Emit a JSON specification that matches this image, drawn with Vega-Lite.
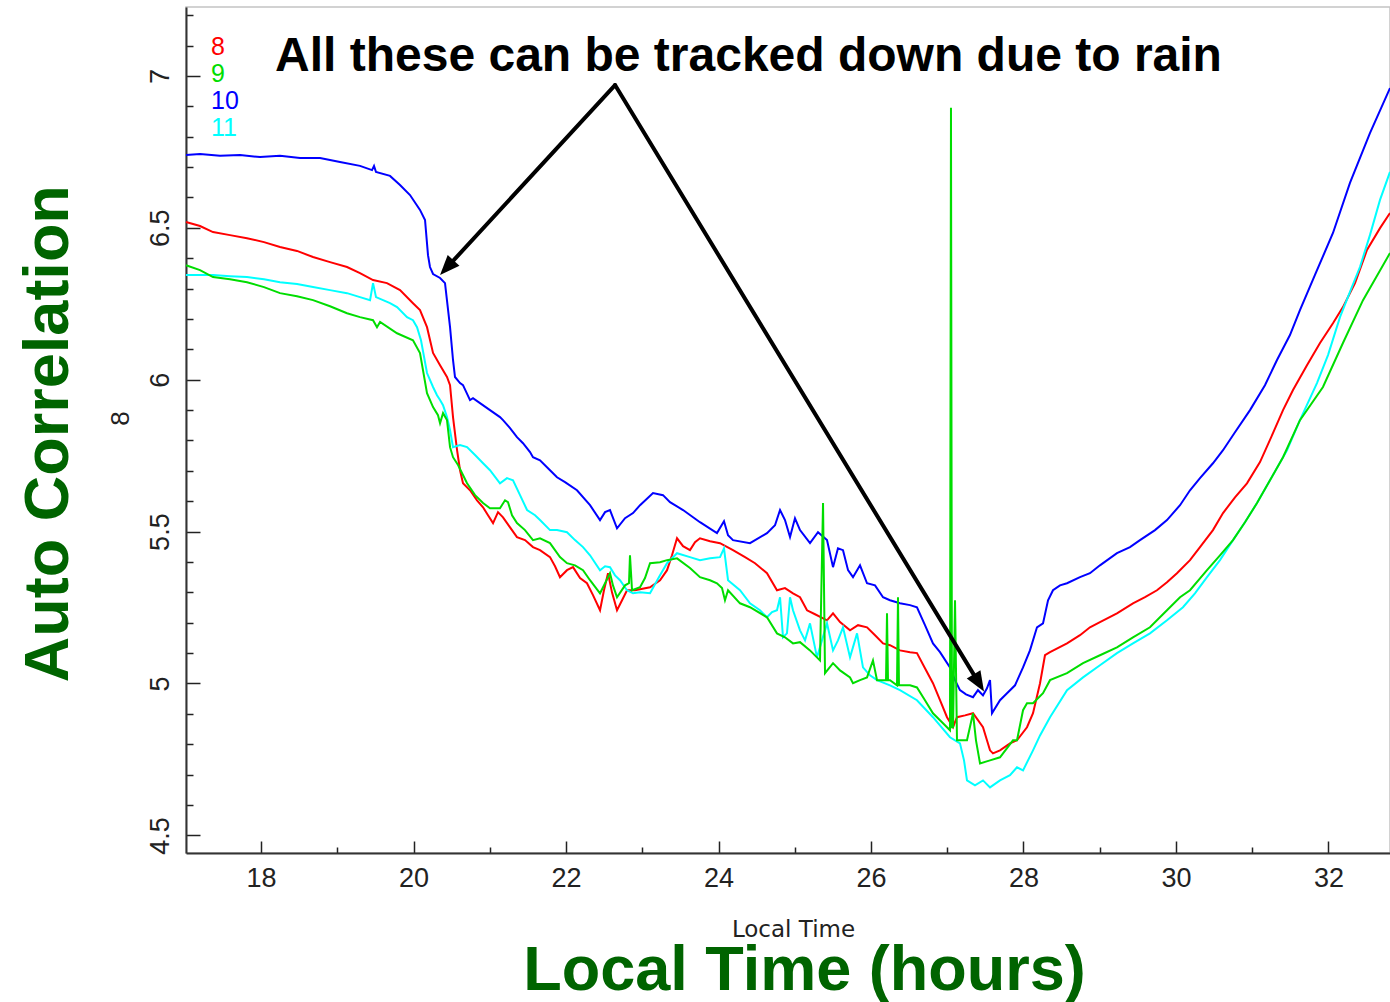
{
  "$schema": "https://vega.github.io/schema/vega-lite/v6.json",
  "width": 1204,
  "height": 846,
  "autosize": {"type": "none"},
  "padding": {"left": 186, "top": 7, "right": 0, "bottom": 149},
  "background": "white",
  "config": {"view": {"stroke": "#c4c4c4", "strokeWidth": 1.5}},
  "datasets": {
    "series": [
      {"s":"10","t":17.016,"v":6.740},{"s":"10","t":17.200,"v":6.743},{"s":"10","t":17.462,"v":6.737},{"s":"10","t":17.725,"v":6.740},
      {"s":"10","t":17.987,"v":6.733},{"s":"10","t":18.249,"v":6.737},{"s":"10","t":18.511,"v":6.730},{"s":"10","t":18.774,"v":6.730},
      {"s":"10","t":19.036,"v":6.717},{"s":"10","t":19.298,"v":6.704},{"s":"10","t":19.456,"v":6.690},{"s":"10","t":19.482,"v":6.704},
      {"s":"10","t":19.508,"v":6.684},{"s":"10","t":19.692,"v":6.671},{"s":"10","t":19.823,"v":6.641},{"s":"10","t":19.954,"v":6.608},
      {"s":"10","t":20.085,"v":6.559},{"s":"10","t":20.151,"v":6.526},{"s":"10","t":20.190,"v":6.410},{"s":"10","t":20.216,"v":6.371},
      {"s":"10","t":20.256,"v":6.348},{"s":"10","t":20.348,"v":6.335},{"s":"10","t":20.413,"v":6.318},{"s":"10","t":20.479,"v":6.173},
      {"s":"10","t":20.518,"v":6.065},{"s":"10","t":20.544,"v":6.009},{"s":"10","t":20.610,"v":5.989},{"s":"10","t":20.649,"v":5.982},
      {"s":"10","t":20.741,"v":5.933},{"s":"10","t":20.780,"v":5.939},{"s":"10","t":20.872,"v":5.923},{"s":"10","t":21.003,"v":5.900},
      {"s":"10","t":21.134,"v":5.877},{"s":"10","t":21.174,"v":5.867},{"s":"10","t":21.266,"v":5.841},{"s":"10","t":21.357,"v":5.811},
      {"s":"10","t":21.436,"v":5.791},{"s":"10","t":21.528,"v":5.762},{"s":"10","t":21.567,"v":5.745},{"s":"10","t":21.659,"v":5.735},
      {"s":"10","t":21.790,"v":5.702},{"s":"10","t":21.882,"v":5.679},{"s":"10","t":21.987,"v":5.663},{"s":"10","t":22.144,"v":5.636},
      {"s":"10","t":22.315,"v":5.587},{"s":"10","t":22.446,"v":5.538},{"s":"10","t":22.512,"v":5.564},{"s":"10","t":22.577,"v":5.571},
      {"s":"10","t":22.669,"v":5.511},{"s":"10","t":22.774,"v":5.544},{"s":"10","t":22.879,"v":5.561},{"s":"10","t":22.971,"v":5.587},
      {"s":"10","t":23.141,"v":5.627},{"s":"10","t":23.272,"v":5.620},{"s":"10","t":23.364,"v":5.597},{"s":"10","t":23.535,"v":5.571},
      {"s":"10","t":23.757,"v":5.531},{"s":"10","t":23.980,"v":5.495},{"s":"10","t":24.072,"v":5.534},{"s":"10","t":24.125,"v":5.488},
      {"s":"10","t":24.190,"v":5.472},{"s":"10","t":24.413,"v":5.462},{"s":"10","t":24.636,"v":5.495},{"s":"10","t":24.741,"v":5.521},
      {"s":"10","t":24.807,"v":5.571},{"s":"10","t":24.872,"v":5.538},{"s":"10","t":24.938,"v":5.482},{"s":"10","t":25.003,"v":5.544},
      {"s":"10","t":25.069,"v":5.505},{"s":"10","t":25.200,"v":5.462},{"s":"10","t":25.305,"v":5.498},{"s":"10","t":25.423,"v":5.472},
      {"s":"10","t":25.502,"v":5.383},{"s":"10","t":25.567,"v":5.445},{"s":"10","t":25.633,"v":5.439},{"s":"10","t":25.699,"v":5.373},
      {"s":"10","t":25.764,"v":5.350},{"s":"10","t":25.856,"v":5.389},{"s":"10","t":25.948,"v":5.330},{"s":"10","t":26.053,"v":5.323},
      {"s":"10","t":26.158,"v":5.284},{"s":"10","t":26.249,"v":5.274},{"s":"10","t":26.380,"v":5.264},{"s":"10","t":26.512,"v":5.258},
      {"s":"10","t":26.603,"v":5.251},{"s":"10","t":26.708,"v":5.192},{"s":"10","t":26.813,"v":5.132},{"s":"10","t":26.905,"v":5.103},
      {"s":"10","t":27.036,"v":5.053},{"s":"10","t":27.102,"v":5.011},{"s":"10","t":27.167,"v":4.978},{"s":"10","t":27.246,"v":4.964},
      {"s":"10","t":27.338,"v":4.955},{"s":"10","t":27.403,"v":4.978},{"s":"10","t":27.469,"v":4.961},{"s":"10","t":27.521,"v":4.984},
      {"s":"10","t":27.561,"v":5.011},{"s":"10","t":27.587,"v":4.902},{"s":"10","t":27.692,"v":4.945},{"s":"10","t":27.784,"v":4.968},
      {"s":"10","t":27.889,"v":4.994},{"s":"10","t":27.994,"v":5.053},{"s":"10","t":28.085,"v":5.109},{"s":"10","t":28.177,"v":5.185},
      {"s":"10","t":28.256,"v":5.198},{"s":"10","t":28.322,"v":5.274},{"s":"10","t":28.387,"v":5.307},{"s":"10","t":28.479,"v":5.323},
      {"s":"10","t":28.571,"v":5.330},{"s":"10","t":28.741,"v":5.350},{"s":"10","t":28.872,"v":5.363},{"s":"10","t":29.003,"v":5.389},
      {"s":"10","t":29.226,"v":5.429},{"s":"10","t":29.397,"v":5.449},{"s":"10","t":29.528,"v":5.472},{"s":"10","t":29.725,"v":5.505},
      {"s":"10","t":29.882,"v":5.538},{"s":"10","t":30.053,"v":5.587},{"s":"10","t":30.184,"v":5.636},{"s":"10","t":30.315,"v":5.676},
      {"s":"10","t":30.485,"v":5.725},{"s":"10","t":30.617,"v":5.768},{"s":"10","t":30.774,"v":5.827},{"s":"10","t":30.971,"v":5.900},
      {"s":"10","t":31.167,"v":5.982},{"s":"10","t":31.325,"v":6.065},{"s":"10","t":31.495,"v":6.147},{"s":"10","t":31.626,"v":6.229},
      {"s":"10","t":31.823,"v":6.345},{"s":"10","t":32.059,"v":6.483},{"s":"10","t":32.282,"v":6.648},{"s":"10","t":32.544,"v":6.812},
      {"s":"10","t":32.807,"v":6.960},

      {"s":"8","t":17.016,"v":6.519},{"s":"8","t":17.200,"v":6.506},{"s":"8","t":17.370,"v":6.486},{"s":"8","t":17.593,"v":6.476},
      {"s":"8","t":17.816,"v":6.466},{"s":"8","t":18.039,"v":6.453},{"s":"8","t":18.249,"v":6.437},{"s":"8","t":18.472,"v":6.424},
      {"s":"8","t":18.682,"v":6.404},{"s":"8","t":18.905,"v":6.387},{"s":"8","t":19.128,"v":6.371},{"s":"8","t":19.298,"v":6.351},
      {"s":"8","t":19.469,"v":6.328},{"s":"8","t":19.652,"v":6.318},{"s":"8","t":19.823,"v":6.295},{"s":"8","t":19.993,"v":6.252},
      {"s":"8","t":20.085,"v":6.229},{"s":"8","t":20.177,"v":6.173},{"s":"8","t":20.256,"v":6.088},{"s":"8","t":20.348,"v":6.048},
      {"s":"8","t":20.439,"v":6.009},{"s":"8","t":20.479,"v":5.982},{"s":"8","t":20.518,"v":5.877},{"s":"8","t":20.571,"v":5.768},
      {"s":"8","t":20.610,"v":5.702},{"s":"8","t":20.649,"v":5.659},{"s":"8","t":20.741,"v":5.636},{"s":"8","t":20.833,"v":5.603},
      {"s":"8","t":20.912,"v":5.580},{"s":"8","t":20.977,"v":5.554},{"s":"8","t":21.043,"v":5.528},{"s":"8","t":21.108,"v":5.564},
      {"s":"8","t":21.174,"v":5.547},{"s":"8","t":21.266,"v":5.514},{"s":"8","t":21.357,"v":5.482},{"s":"8","t":21.462,"v":5.472},
      {"s":"8","t":21.567,"v":5.449},{"s":"8","t":21.659,"v":5.439},{"s":"8","t":21.790,"v":5.416},{"s":"8","t":21.856,"v":5.386},
      {"s":"8","t":21.921,"v":5.350},{"s":"8","t":22.013,"v":5.373},{"s":"8","t":22.092,"v":5.383},{"s":"8","t":22.184,"v":5.347},
      {"s":"8","t":22.275,"v":5.330},{"s":"8","t":22.354,"v":5.291},{"s":"8","t":22.446,"v":5.241},{"s":"8","t":22.498,"v":5.307},
      {"s":"8","t":22.551,"v":5.363},{"s":"8","t":22.603,"v":5.300},{"s":"8","t":22.669,"v":5.241},{"s":"8","t":22.735,"v":5.274},
      {"s":"8","t":22.800,"v":5.307},{"s":"8","t":22.905,"v":5.307},{"s":"8","t":23.102,"v":5.317},{"s":"8","t":23.233,"v":5.340},
      {"s":"8","t":23.325,"v":5.373},{"s":"8","t":23.390,"v":5.422},{"s":"8","t":23.456,"v":5.478},{"s":"8","t":23.535,"v":5.452},
      {"s":"8","t":23.626,"v":5.439},{"s":"8","t":23.692,"v":5.465},{"s":"8","t":23.757,"v":5.478},{"s":"8","t":23.889,"v":5.468},
      {"s":"8","t":24.020,"v":5.462},{"s":"8","t":24.190,"v":5.439},{"s":"8","t":24.348,"v":5.416},{"s":"8","t":24.479,"v":5.396},
      {"s":"8","t":24.636,"v":5.363},{"s":"8","t":24.767,"v":5.307},{"s":"8","t":24.872,"v":5.314},{"s":"8","t":24.977,"v":5.297},
      {"s":"8","t":25.069,"v":5.284},{"s":"8","t":25.161,"v":5.241},{"s":"8","t":25.266,"v":5.228},{"s":"8","t":25.423,"v":5.208},
      {"s":"8","t":25.502,"v":5.231},{"s":"8","t":25.594,"v":5.202},{"s":"8","t":25.725,"v":5.175},{"s":"8","t":25.830,"v":5.192},
      {"s":"8","t":25.948,"v":5.185},{"s":"8","t":26.053,"v":5.159},{"s":"8","t":26.158,"v":5.132},{"s":"8","t":26.249,"v":5.126},
      {"s":"8","t":26.380,"v":5.109},{"s":"8","t":26.512,"v":5.103},{"s":"8","t":26.603,"v":5.100},{"s":"8","t":26.708,"v":5.050},
      {"s":"8","t":26.813,"v":5.001},{"s":"8","t":26.905,"v":4.945},{"s":"8","t":26.997,"v":4.889},{"s":"8","t":27.076,"v":4.856},
      {"s":"8","t":27.128,"v":4.889},{"s":"8","t":27.233,"v":4.895},{"s":"8","t":27.338,"v":4.902},{"s":"8","t":27.469,"v":4.856},
      {"s":"8","t":27.521,"v":4.813},{"s":"8","t":27.561,"v":4.780},{"s":"8","t":27.600,"v":4.770},{"s":"8","t":27.692,"v":4.780},
      {"s":"8","t":27.823,"v":4.803},{"s":"8","t":27.915,"v":4.813},{"s":"8","t":28.046,"v":4.856},{"s":"8","t":28.125,"v":4.902},
      {"s":"8","t":28.217,"v":5.001},{"s":"8","t":28.282,"v":5.093},{"s":"8","t":28.348,"v":5.103},{"s":"8","t":28.571,"v":5.132},
      {"s":"8","t":28.741,"v":5.159},{"s":"8","t":28.872,"v":5.185},{"s":"8","t":29.003,"v":5.202},{"s":"8","t":29.226,"v":5.231},
      {"s":"8","t":29.436,"v":5.264},{"s":"8","t":29.594,"v":5.284},{"s":"8","t":29.751,"v":5.307},{"s":"8","t":29.882,"v":5.333},
      {"s":"8","t":30.013,"v":5.363},{"s":"8","t":30.184,"v":5.406},{"s":"8","t":30.315,"v":5.449},{"s":"8","t":30.485,"v":5.505},
      {"s":"8","t":30.617,"v":5.561},{"s":"8","t":30.774,"v":5.613},{"s":"8","t":30.931,"v":5.659},{"s":"8","t":31.102,"v":5.729},
      {"s":"8","t":31.272,"v":5.824},{"s":"8","t":31.404,"v":5.900},{"s":"8","t":31.535,"v":5.966},{"s":"8","t":31.718,"v":6.048},
      {"s":"8","t":31.889,"v":6.121},{"s":"8","t":32.059,"v":6.186},{"s":"8","t":32.190,"v":6.239},{"s":"8","t":32.348,"v":6.318},
      {"s":"8","t":32.505,"v":6.427},{"s":"8","t":32.676,"v":6.499},{"s":"8","t":32.807,"v":6.549},

      {"s":"11","t":17.016,"v":6.345},{"s":"11","t":17.200,"v":6.345},{"s":"11","t":17.370,"v":6.345},{"s":"11","t":17.593,"v":6.341},
      {"s":"11","t":17.816,"v":6.338},{"s":"11","t":18.039,"v":6.331},{"s":"11","t":18.249,"v":6.321},{"s":"11","t":18.472,"v":6.315},
      {"s":"11","t":18.682,"v":6.305},{"s":"11","t":18.905,"v":6.295},{"s":"11","t":19.128,"v":6.285},{"s":"11","t":19.298,"v":6.272},
      {"s":"11","t":19.430,"v":6.262},{"s":"11","t":19.469,"v":6.318},{"s":"11","t":19.508,"v":6.272},{"s":"11","t":19.692,"v":6.252},
      {"s":"11","t":19.784,"v":6.239},{"s":"11","t":19.915,"v":6.206},{"s":"11","t":19.993,"v":6.196},{"s":"11","t":20.046,"v":6.173},
      {"s":"11","t":20.098,"v":6.130},{"s":"11","t":20.177,"v":6.022},{"s":"11","t":20.256,"v":5.976},{"s":"11","t":20.308,"v":5.949},
      {"s":"11","t":20.348,"v":5.933},{"s":"11","t":20.387,"v":5.916},{"s":"11","t":20.439,"v":5.877},{"s":"11","t":20.479,"v":5.834},
      {"s":"11","t":20.518,"v":5.778},{"s":"11","t":20.610,"v":5.785},{"s":"11","t":20.702,"v":5.778},{"s":"11","t":20.807,"v":5.752},
      {"s":"11","t":20.912,"v":5.725},{"s":"11","t":21.003,"v":5.702},{"s":"11","t":21.134,"v":5.659},{"s":"11","t":21.226,"v":5.676},
      {"s":"11","t":21.305,"v":5.669},{"s":"11","t":21.397,"v":5.620},{"s":"11","t":21.489,"v":5.571},{"s":"11","t":21.594,"v":5.554},
      {"s":"11","t":21.659,"v":5.538},{"s":"11","t":21.790,"v":5.505},{"s":"11","t":21.882,"v":5.505},{"s":"11","t":22.013,"v":5.498},
      {"s":"11","t":22.118,"v":5.472},{"s":"11","t":22.223,"v":5.449},{"s":"11","t":22.315,"v":5.422},{"s":"11","t":22.446,"v":5.373},
      {"s":"11","t":22.512,"v":5.386},{"s":"11","t":22.577,"v":5.383},{"s":"11","t":22.643,"v":5.356},{"s":"11","t":22.708,"v":5.340},
      {"s":"11","t":22.800,"v":5.307},{"s":"11","t":22.879,"v":5.297},{"s":"11","t":22.971,"v":5.300},{"s":"11","t":23.102,"v":5.297},
      {"s":"11","t":23.233,"v":5.356},{"s":"11","t":23.325,"v":5.396},{"s":"11","t":23.456,"v":5.429},{"s":"11","t":23.626,"v":5.416},
      {"s":"11","t":23.757,"v":5.406},{"s":"11","t":23.889,"v":5.412},{"s":"11","t":24.020,"v":5.416},{"s":"11","t":24.072,"v":5.445},
      {"s":"11","t":24.125,"v":5.340},{"s":"11","t":24.282,"v":5.307},{"s":"11","t":24.413,"v":5.264},{"s":"11","t":24.544,"v":5.241},
      {"s":"11","t":24.636,"v":5.218},{"s":"11","t":24.702,"v":5.235},{"s":"11","t":24.767,"v":5.241},{"s":"11","t":24.807,"v":5.284},
      {"s":"11","t":24.846,"v":5.152},{"s":"11","t":24.898,"v":5.165},{"s":"11","t":24.938,"v":5.284},{"s":"11","t":24.977,"v":5.241},
      {"s":"11","t":25.069,"v":5.175},{"s":"11","t":25.135,"v":5.142},{"s":"11","t":25.200,"v":5.198},{"s":"11","t":25.292,"v":5.086},
      {"s":"11","t":25.357,"v":5.142},{"s":"11","t":25.423,"v":5.198},{"s":"11","t":25.502,"v":5.109},{"s":"11","t":25.567,"v":5.142},
      {"s":"11","t":25.633,"v":5.185},{"s":"11","t":25.725,"v":5.086},{"s":"11","t":25.817,"v":5.165},{"s":"11","t":25.895,"v":5.053},
      {"s":"11","t":25.987,"v":5.027},{"s":"11","t":26.079,"v":5.011},{"s":"11","t":26.249,"v":4.994},{"s":"11","t":26.380,"v":4.978},
      {"s":"11","t":26.603,"v":4.945},{"s":"11","t":26.813,"v":4.889},{"s":"11","t":27.036,"v":4.823},{"s":"11","t":27.167,"v":4.803},
      {"s":"11","t":27.220,"v":4.747},{"s":"11","t":27.259,"v":4.681},{"s":"11","t":27.364,"v":4.665},{"s":"11","t":27.469,"v":4.681},
      {"s":"11","t":27.561,"v":4.658},{"s":"11","t":27.692,"v":4.681},{"s":"11","t":27.823,"v":4.698},{"s":"11","t":27.915,"v":4.724},
      {"s":"11","t":27.994,"v":4.714},{"s":"11","t":28.125,"v":4.780},{"s":"11","t":28.217,"v":4.829},{"s":"11","t":28.348,"v":4.889},
      {"s":"11","t":28.571,"v":4.978},{"s":"11","t":28.781,"v":5.020},{"s":"11","t":29.003,"v":5.060},{"s":"11","t":29.226,"v":5.100},
      {"s":"11","t":29.436,"v":5.132},{"s":"11","t":29.659,"v":5.165},{"s":"11","t":29.882,"v":5.208},{"s":"11","t":30.092,"v":5.251},
      {"s":"11","t":30.249,"v":5.297},{"s":"11","t":30.407,"v":5.350},{"s":"11","t":30.577,"v":5.406},{"s":"11","t":30.748,"v":5.472},
      {"s":"11","t":30.905,"v":5.531},{"s":"11","t":31.063,"v":5.594},{"s":"11","t":31.233,"v":5.669},{"s":"11","t":31.456,"v":5.768},
      {"s":"11","t":31.626,"v":5.867},{"s":"11","t":31.849,"v":5.989},{"s":"11","t":31.994,"v":6.081},{"s":"11","t":32.151,"v":6.206},
      {"s":"11","t":32.282,"v":6.289},{"s":"11","t":32.413,"v":6.371},{"s":"11","t":32.544,"v":6.476},{"s":"11","t":32.676,"v":6.592},
      {"s":"11","t":32.807,"v":6.684},

      {"s":"9","t":17.016,"v":6.377},{"s":"9","t":17.200,"v":6.361},{"s":"9","t":17.370,"v":6.338},{"s":"9","t":17.593,"v":6.331},
      {"s":"9","t":17.816,"v":6.321},{"s":"9","t":18.039,"v":6.305},{"s":"9","t":18.249,"v":6.285},{"s":"9","t":18.472,"v":6.275},
      {"s":"9","t":18.682,"v":6.262},{"s":"9","t":18.905,"v":6.242},{"s":"9","t":19.128,"v":6.219},{"s":"9","t":19.298,"v":6.206},
      {"s":"9","t":19.469,"v":6.196},{"s":"9","t":19.521,"v":6.173},{"s":"9","t":19.561,"v":6.190},{"s":"9","t":19.784,"v":6.153},
      {"s":"9","t":19.993,"v":6.130},{"s":"9","t":20.085,"v":6.088},{"s":"9","t":20.177,"v":5.956},{"s":"9","t":20.256,"v":5.910},
      {"s":"9","t":20.321,"v":5.883},{"s":"9","t":20.348,"v":5.857},{"s":"9","t":20.387,"v":5.890},{"s":"9","t":20.439,"v":5.867},
      {"s":"9","t":20.479,"v":5.778},{"s":"9","t":20.518,"v":5.745},{"s":"9","t":20.584,"v":5.719},{"s":"9","t":20.702,"v":5.659},
      {"s":"9","t":20.807,"v":5.620},{"s":"9","t":20.912,"v":5.594},{"s":"9","t":21.003,"v":5.577},{"s":"9","t":21.134,"v":5.577},
      {"s":"9","t":21.200,"v":5.603},{"s":"9","t":21.239,"v":5.597},{"s":"9","t":21.292,"v":5.554},{"s":"9","t":21.357,"v":5.528},
      {"s":"9","t":21.462,"v":5.505},{"s":"9","t":21.567,"v":5.472},{"s":"9","t":21.659,"v":5.478},{"s":"9","t":21.790,"v":5.462},
      {"s":"9","t":21.921,"v":5.416},{"s":"9","t":22.013,"v":5.396},{"s":"9","t":22.118,"v":5.389},{"s":"9","t":22.223,"v":5.373},
      {"s":"9","t":22.315,"v":5.340},{"s":"9","t":22.446,"v":5.297},{"s":"9","t":22.512,"v":5.330},{"s":"9","t":22.577,"v":5.363},
      {"s":"9","t":22.616,"v":5.323},{"s":"9","t":22.669,"v":5.284},{"s":"9","t":22.774,"v":5.323},{"s":"9","t":22.826,"v":5.330},
      {"s":"9","t":22.839,"v":5.422},{"s":"9","t":22.866,"v":5.307},{"s":"9","t":22.971,"v":5.317},{"s":"9","t":23.036,"v":5.347},
      {"s":"9","t":23.102,"v":5.396},{"s":"9","t":23.233,"v":5.399},{"s":"9","t":23.325,"v":5.406},{"s":"9","t":23.456,"v":5.412},
      {"s":"9","t":23.626,"v":5.380},{"s":"9","t":23.757,"v":5.350},{"s":"9","t":23.889,"v":5.340},{"s":"9","t":23.980,"v":5.330},
      {"s":"9","t":24.046,"v":5.314},{"s":"9","t":24.085,"v":5.274},{"s":"9","t":24.125,"v":5.307},{"s":"9","t":24.282,"v":5.264},
      {"s":"9","t":24.413,"v":5.251},{"s":"9","t":24.636,"v":5.218},{"s":"9","t":24.767,"v":5.165},{"s":"9","t":24.872,"v":5.152},
      {"s":"9","t":24.977,"v":5.132},{"s":"9","t":25.069,"v":5.136},{"s":"9","t":25.200,"v":5.109},{"s":"9","t":25.331,"v":5.076},
      {"s":"9","t":25.371,"v":5.594},{"s":"9","t":25.397,"v":5.034},{"s":"9","t":25.502,"v":5.067},{"s":"9","t":25.594,"v":5.043},
      {"s":"9","t":25.725,"v":5.020},{"s":"9","t":25.764,"v":5.001},{"s":"9","t":25.856,"v":5.011},{"s":"9","t":25.948,"v":5.020},
      {"s":"9","t":26.026,"v":5.076},{"s":"9","t":26.079,"v":5.011},{"s":"9","t":26.197,"v":5.011},{"s":"9","t":26.210,"v":5.231},
      {"s":"9","t":26.223,"v":5.011},{"s":"9","t":26.249,"v":5.011},{"s":"9","t":26.341,"v":4.994},{"s":"9","t":26.354,"v":5.284},
      {"s":"9","t":26.367,"v":4.994},{"s":"9","t":26.512,"v":4.994},{"s":"9","t":26.603,"v":4.987},{"s":"9","t":26.708,"v":4.945},
      {"s":"9","t":26.813,"v":4.902},{"s":"9","t":26.905,"v":4.879},{"s":"9","t":26.997,"v":4.856},{"s":"9","t":27.036,"v":4.846},
      {"s":"9","t":27.049,"v":6.895},{"s":"9","t":27.062,"v":4.856},{"s":"9","t":27.076,"v":4.856},{"s":"9","t":27.102,"v":5.274},
      {"s":"9","t":27.128,"v":4.813},{"s":"9","t":27.259,"v":4.813},{"s":"9","t":27.338,"v":4.902},{"s":"9","t":27.377,"v":4.813},
      {"s":"9","t":27.430,"v":4.737},{"s":"9","t":27.561,"v":4.747},{"s":"9","t":27.692,"v":4.757},{"s":"9","t":27.862,"v":4.813},
      {"s":"9","t":27.915,"v":4.813},{"s":"9","t":27.994,"v":4.912},{"s":"9","t":28.046,"v":4.935},{"s":"9","t":28.125,"v":4.935},
      {"s":"9","t":28.256,"v":4.968},{"s":"9","t":28.348,"v":5.011},{"s":"9","t":28.571,"v":5.034},{"s":"9","t":28.781,"v":5.067},
      {"s":"9","t":29.003,"v":5.093},{"s":"9","t":29.226,"v":5.119},{"s":"9","t":29.436,"v":5.152},{"s":"9","t":29.659,"v":5.185},
      {"s":"9","t":29.882,"v":5.241},{"s":"9","t":30.053,"v":5.284},{"s":"9","t":30.184,"v":5.307},{"s":"9","t":30.407,"v":5.373},
      {"s":"9","t":30.577,"v":5.422},{"s":"9","t":30.748,"v":5.472},{"s":"9","t":30.905,"v":5.531},{"s":"9","t":31.063,"v":5.594},
      {"s":"9","t":31.233,"v":5.669},{"s":"9","t":31.404,"v":5.745},{"s":"9","t":31.626,"v":5.867},{"s":"9","t":31.928,"v":5.976},
      {"s":"9","t":32.190,"v":6.121},{"s":"9","t":32.453,"v":6.262},{"s":"9","t":32.807,"v":6.417}
    ],
    "arrows": [
      {"t":22.643,"v":6.970,"t2":20.437,"v2":6.369},
      {"t":22.643,"v":6.970,"t2":27.414,"v2":5.002}
    ]
  },
  "encoding": {
    "x": {
      "field": "t",
      "type": "quantitative",
      "scale": {"domain": [17.016, 32.807], "nice": false, "zero": false},
      "axis": {
        "values": [18,19,20,21,22,23,24,25,26,27,28,29,30,31,32],
        "grid": false,
        "domainColor": "#333333",
        "domainWidth": 2,
        "tickColor": "#222222",
        "tickWidth": 1.5,
        "tickSize": {"condition": {"test": "datum.value % 2 === 0", "value": -12}, "value": -6},
        "labelExpr": "datum.value % 2 === 0 ? datum.label : ''",
        "labelFont": "Liberation Sans",
        "labelFontSize": 27,
        "labelColor": "#222222",
        "labelPadding": 24,
        "labelBaseline": "top",
        "labelOverlap": false,
        "labelFlush": false,
        "title": "Local Time",
        "titleFont": "DejaVu Sans",
        "titleFontSize": 23,
        "titleFontWeight": "normal",
        "titleColor": "#222222",
        "titleX": 607,
        "titleY": 83,
        "titleAlign": "center",
        "titleBaseline": "alphabetic"
      }
    },
    "y": {
      "field": "v",
      "type": "quantitative",
      "scale": {"domain": [4.442, 7.227], "nice": false, "zero": false},
      "axis": {
        "values": [4.5,4.6,4.7,4.8,4.9,5,5.1,5.2,5.3,5.4,5.5,5.6,5.7,5.8,5.9,6,6.1,6.2,6.3,6.4,6.5,6.6,6.7,6.8,6.9,7,7.1,7.2],
        "grid": false,
        "domainColor": "#333333",
        "domainWidth": 2,
        "tickColor": "#222222",
        "tickWidth": 1.5,
        "tickSize": {"condition": {"test": "abs(datum.value*2 - round(datum.value*2)) < 0.001", "value": -14}, "value": -7},
        "labelExpr": "abs(datum.value*2 - round(datum.value*2)) < 0.001 ? format(datum.value, '~g') : ''",
        "labelFont": "Liberation Sans",
        "labelFontSize": 27,
        "labelColor": "#222222",
        "labelAngle": 270,
        "labelAlign": "center",
        "labelBaseline": "alphabetic",
        "labelPadding": 32,
        "labelOverlap": false,
        "labelFlush": false,
        "title": "8",
        "titleFont": "Liberation Sans",
        "titleFontSize": 26,
        "titleFontWeight": "normal",
        "titleColor": "#222222",
        "titleAngle": 270,
        "titleX": -58,
        "titleY": 411,
        "titleAlign": "center",
        "titleBaseline": "alphabetic"
      }
    }
  },
  "layer": [
    {
      "data": {"name": "series"},
      "mark": {"type": "line", "strokeWidth": 2},
      "encoding": {
        "color": {
          "field": "s",
          "type": "nominal",
          "scale": {"domain": ["8", "9", "10", "11"], "range": ["#ff0000", "#00dd00", "#0000ff", "#00ffff"]},
          "legend": {
            "title": null,
            "orient": "none",
            "legendX": 0,
            "legendY": 27,
            "padding": 0,
            "symbolSize": 0,
            "symbolStrokeWidth": 0,
            "symbolOpacity": 0,
            "labelOffset": 0,
            "labelFont": "Liberation Sans",
            "labelFontSize": 25,
            "labelColor": {"expr": "scale('color', datum.value)"},
            "rowPadding": 1
          }
        }
      }
    },
    {
      "data": {"name": "arrows"},
      "mark": {"type": "rule", "color": "black", "strokeWidth": 4, "strokeCap": "round"},
      "encoding": {
        "x2": {"field": "t2"},
        "y2": {"field": "v2"}
      }
    },
    {
      "data": {"values": [{"t": 20.348, "v": 6.3445}]},
      "mark": {"type": "point", "shape": "M0,0L0.8,2L-0.8,2Z", "size": 400, "angle": 222.6, "filled": true, "color": "black", "opacity": 1},
      "encoding": {}
    },
    {
      "data": {"values": [{"t": 27.482, "v": 4.974}]},
      "mark": {"type": "point", "shape": "M0,0L0.8,2L-0.8,2Z", "size": 400, "angle": 148.7, "filled": true, "color": "black", "opacity": 1},
      "encoding": {}
    },
    {
      "data": {"values": [{"t": 18.184, "v": 7.0165, "label": "All these can be tracked down due to rain"}]},
      "mark": {"type": "text", "align": "left", "baseline": "alphabetic", "font": "Liberation Sans", "fontSize": 48, "fontWeight": "bold", "color": "black"},
      "encoding": {"text": {"field": "label"}}
    },
    {
      "data": {"values": [{"t": 25.128, "v": 3.990, "label": "Local Time (hours)"}]},
      "mark": {"type": "text", "align": "center", "baseline": "alphabetic", "font": "Liberation Sans", "fontSize": 63, "fontWeight": "bold", "color": "#006400"},
      "encoding": {"text": {"field": "label"}}
    },
    {
      "data": {"values": [{"t": 15.469, "v": 5.8225, "label": "Auto Correlation"}]},
      "mark": {"type": "text", "align": "center", "baseline": "alphabetic", "angle": 270, "font": "Liberation Sans", "fontSize": 63, "fontWeight": "bold", "color": "#006400"},
      "encoding": {"text": {"field": "label"}}
    }
  ]
}
